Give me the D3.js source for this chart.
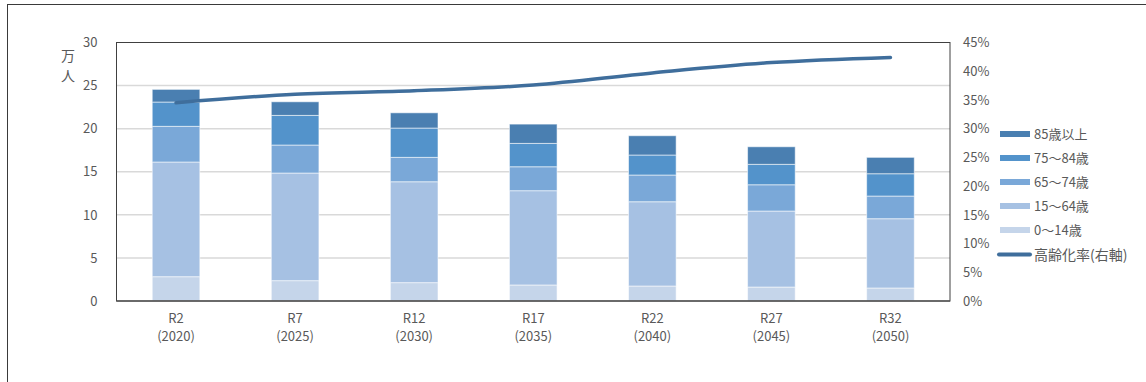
<!DOCTYPE html>
<html><head><meta charset="utf-8">
<script src="https://cdn.jsdelivr.net/npm/d3@7"></script>
<style>
html,body{margin:0;padding:0;background:#fff;}
text{font-family:"Noto Sans CJK JP","Noto Sans",sans-serif;fill:#595959;}
</style></head>
<body>
<svg id="chart" width="1146" height="382"></svg>
<script>
const categories = ["R2", "R7", "R12", "R17", "R22", "R27", "R32"];
const years = ["(2020)", "(2025)", "(2030)", "(2035)", "(2040)", "(2045)", "(2050)"];
const age0_14 = [2.82, 2.36, 2.13, 1.86, 1.74, 1.62, 1.51];
const age15_64 = [13.31, 12.49, 11.71, 10.94, 9.78, 8.82, 8.04];
const age65_74 = [4.14, 3.25, 2.83, 2.78, 3.10, 3.05, 2.63];
const age75_84 = [2.82, 3.44, 3.40, 2.71, 2.32, 2.37, 2.59];
const age85plus = [1.47, 1.58, 1.77, 2.24, 2.24, 2.04, 1.90];
const agingRate = [0.345, 0.360, 0.366, 0.376, 0.397, 0.415, 0.424];
const seriesNames = ["0～14歳", "15～64歳", "65～74歳", "75～84歳", "85歳以上"];
const seriesColors = ["#c5d5ea", "#a6c1e3", "#7aa8d8", "#5393cb", "#4a7fb1"];
const lineName = "高齢化率(右軸)";
const lineColor = "#3f6e9c";
const leftTicks = [0, 5, 10, 15, 20, 25, 30];
const rightTicks = [0, 0.05, 0.10, 0.15, 0.20, 0.25, 0.30, 0.35, 0.40, 0.45];
const yUnit = ["万", "人"];

const svg = d3.select("#chart");
const L = 116.5, R = 950, T = 42.5, B = 301;

// outer frame
svg.append("rect").attr("x", 7.5).attr("y", 4.5).attr("width", 1200).attr("height", 400)
  .attr("fill", "none").attr("stroke", "#3a3a3a").attr("stroke-width", 1);

const x = d3.scaleBand().domain(categories).range([L, R]).paddingInner(0.6).paddingOuter(0.3);
const yL = d3.scaleLinear().domain([0, 30]).range([B, T]);
const yR = d3.scaleLinear().domain([0, 0.45]).range([B, T]);

// grid
svg.append("g").selectAll("line").data(leftTicks.filter(d => d > 0 && d < 30)).join("line")
  .attr("x1", L).attr("x2", R).attr("y1", d => yL(d)).attr("y2", d => yL(d))
  .attr("stroke", "#d9d9d9").attr("stroke-width", 1.5);

// stacked bars
const rows = categories.map((c, i) => ({
  cat: c, s0: age0_14[i], s1: age15_64[i], s2: age65_74[i], s3: age75_84[i], s4: age85plus[i]
}));
const keys = ["s0", "s1", "s2", "s3", "s4"];
const stacked = d3.stack().keys(keys)(rows);
svg.append("g").selectAll("g").data(stacked).join("g")
  .attr("fill", (d, i) => seriesColors[i])
  .selectAll("rect").data(d => d).join("rect")
  .attr("x", d => x(d.data.cat)).attr("width", x.bandwidth())
  .attr("y", d => yL(d[1])).attr("height", d => yL(d[0]) - yL(d[1]))
  .attr("stroke", "rgba(255,255,255,0.55)").attr("stroke-width", 1);

// plot frame
svg.append("rect").attr("x", L).attr("y", T).attr("width", R - L).attr("height", B - T)
  .attr("fill", "none").attr("stroke", "#404040").attr("stroke-width", 1);
svg.append("line").attr("x1", L).attr("x2", R).attr("y1", B).attr("y2", B)
  .attr("stroke", "#595959").attr("stroke-width", 1.5);

// line
const line = d3.line().x((d, i) => x(categories[i]) + x.bandwidth() / 2).y(d => yR(d)).curve(d3.curveMonotoneX);
svg.append("path").datum(agingRate).attr("d", line).attr("fill", "none")
  .attr("stroke", lineColor).attr("stroke-width", 3.5).attr("stroke-linecap", "round");

// left axis
const axL = svg.append("g").attr("transform", `translate(${L - 19},0)`)
  .call(d3.axisLeft(yL).tickValues(leftTicks).tickSize(0).tickPadding(0));
axL.select(".domain").remove();
axL.selectAll("text").attr("font-size", 13).style("fill", "#595959");

// right axis
const axR = svg.append("g").attr("transform", `translate(${R + 13},0)`)
  .call(d3.axisRight(yR).tickValues(rightTicks).tickSize(0).tickPadding(0).tickFormat(d3.format(".0%")));
axR.select(".domain").remove();
axR.selectAll("text").attr("font-size", 13).style("fill", "#595959");

// unit label
svg.append("g").selectAll("text").data(yUnit).join("text")
  .attr("x", 68).attr("y", (d, i) => 61 + i * 20).attr("text-anchor", "middle")
  .attr("font-size", 14).text(d => d);

// x labels
const xl = svg.append("g");
categories.forEach((c, i) => {
  const cx = x(c) + x.bandwidth() / 2;
  xl.append("text").attr("x", cx).attr("y", 323).attr("text-anchor", "middle").attr("font-size", 13).text(c);
  xl.append("text").attr("x", cx).attr("y", 341).attr("text-anchor", "middle").attr("font-size", 13).text(years[i]);
});

// legend
const lg = svg.append("g");
const order = [4, 3, 2, 1, 0];
order.forEach((si, j) => {
  const cy = 134 + j * 24;
  lg.append("rect").attr("x", 1000).attr("y", cy - 3).attr("width", 30).attr("height", 6).attr("fill", seriesColors[si]);
  lg.append("text").attr("x", 1034).attr("y", cy + 4.5).attr("font-size", 13).text(seriesNames[si]);
});
const ly = 134 + 5 * 24 + 0.5;
lg.append("line").attr("x1", 999).attr("x2", 1030).attr("y1", ly).attr("y2", ly)
  .attr("stroke", lineColor).attr("stroke-width", 4).attr("stroke-linecap", "round");
lg.append("text").attr("x", 1034).attr("y", ly + 5).attr("font-size", 14).text(lineName);
</script>
</body></html>
